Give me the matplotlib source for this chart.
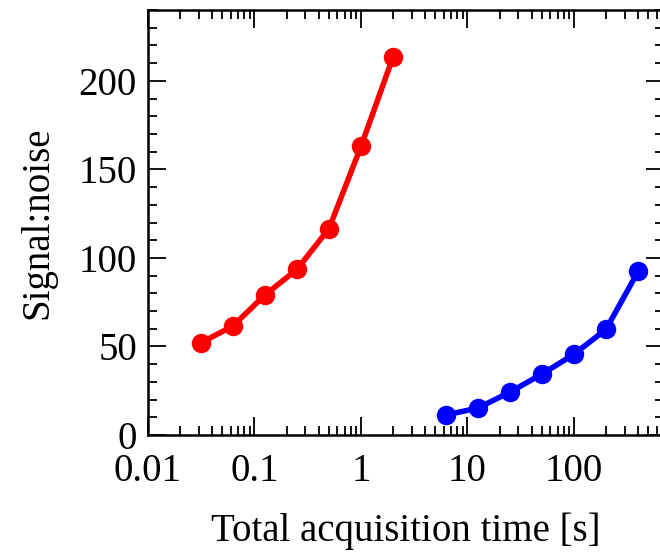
import numpy as np
import matplotlib.pyplot as plt
from matplotlib.ticker import MultipleLocator, LogLocator, FixedFormatter, FixedLocator

plt.rcParams['font.family'] = ['Liberation Serif', 'DejaVu Serif']

# Data
red_t = [0.03125, 0.0625, 0.125, 0.25, 0.5, 1, 2]
red_snr = [52, 61.5, 79, 93.5, 116.5, 163, 213.5]
blue_t = [6.25, 12.5, 25, 50, 100, 200, 400]
blue_snr = [11.3, 15.2, 24.2, 34.4, 45.6, 59.7, 92.4]

xticks = [0.01, 0.1, 1, 10, 100]
xlabels = ['0.01', '0.1', '1', '10', '100']

fig = plt.figure(figsize=(6.6, 5.52), dpi=100)
ax = fig.add_axes([148 / 660, 117 / 552, (664 - 148) / 660, (435 - 10) / 552])

ax.plot(red_t, red_snr, color='#ff0000', lw=4, marker='o', ms=13, solid_capstyle='round')
ax.plot(blue_t, blue_snr, color='#0000ff', lw=4, marker='o', ms=13, solid_capstyle='round')

ax.set_xscale('log')
ax.set_xlim(0.01, 700)
ax.set_ylim(0, 240)

ax.xaxis.set_major_locator(FixedLocator(xticks))
ax.xaxis.set_major_formatter(FixedFormatter(xlabels))
ax.xaxis.set_minor_locator(LogLocator(base=10, subs=np.arange(2, 10)))
ax.yaxis.set_major_locator(MultipleLocator(50))
ax.yaxis.set_minor_locator(MultipleLocator(10))

ax.tick_params(which='both', direction='in', top=True, right=True, width=1.3, labelsize=28, colors='black')
ax.tick_params(which='major', length=13, pad=8)
ax.tick_params(axis='x', which='major', pad=13)
ax.tick_params(which='minor', length=6.5)
for s in ax.spines.values():
    s.set_linewidth(1.8)

ax.set_xlabel('Total acquisition time [s]', fontsize=28, labelpad=16)
ax.set_ylabel('Signal:noise', fontsize=28, labelpad=16)

fig.savefig('out.png', dpi=100)
